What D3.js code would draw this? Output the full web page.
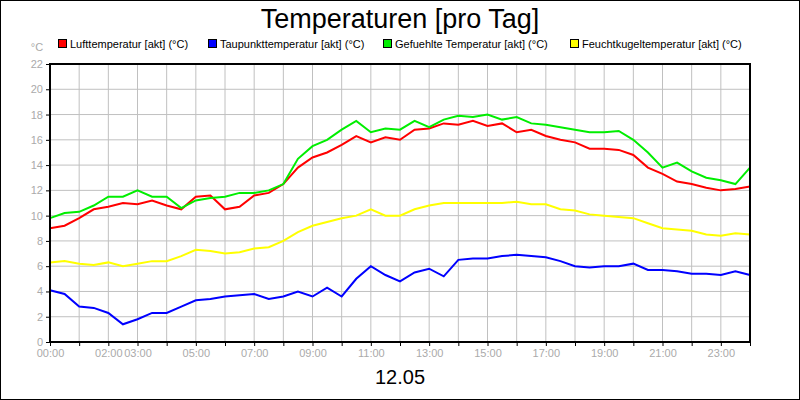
<!DOCTYPE html><html><head><meta charset="utf-8"><script src="https://cdn.jsdelivr.net/npm/d3@7"></script>
<style>body{margin:0}svg{display:block;font-family:"Liberation Sans",Arial,sans-serif}</style></head><body><svg id="c" width="800" height="400"></svg><script>
const hours=d3.range(49).map(i=>i/2);
const luft=[9.0,9.2,9.8,10.5,10.7,11.0,10.9,11.2,10.8,10.5,11.5,11.6,10.5,10.7,11.6,11.8,12.5,13.8,14.6,15.0,15.6,16.3,15.8,16.2,16.0,16.8,16.9,17.3,17.2,17.5,17.1,17.3,16.6,16.8,16.3,16.0,15.8,15.3,15.3,15.2,14.8,13.8,13.3,12.7,12.5,12.2,12.0,12.1,12.3];
const gef=[9.8,10.2,10.3,10.8,11.5,11.5,12.0,11.5,11.5,10.6,11.2,11.4,11.5,11.8,11.8,12.0,12.5,14.5,15.5,16.0,16.8,17.5,16.6,16.9,16.8,17.5,17.0,17.6,17.9,17.8,18.0,17.6,17.8,17.3,17.2,17.0,16.8,16.6,16.6,16.7,16.0,15.0,13.8,14.2,13.5,13.0,12.8,12.5,13.8];
const feucht=[6.3,6.4,6.2,6.1,6.3,6.0,6.2,6.4,6.4,6.8,7.3,7.2,7.0,7.1,7.4,7.5,8.0,8.7,9.2,9.5,9.8,10.0,10.5,10.0,10.0,10.5,10.8,11.0,11.0,11.0,11.0,11.0,11.1,10.9,10.9,10.5,10.4,10.1,10.0,9.9,9.8,9.4,9.0,8.9,8.8,8.5,8.4,8.6,8.5];
const tau=[4.1,3.8,2.8,2.7,2.3,1.4,1.8,2.3,2.3,2.8,3.3,3.4,3.6,3.7,3.8,3.4,3.6,4.0,3.6,4.3,3.6,5.0,6.0,5.3,4.8,5.5,5.8,5.2,6.5,6.6,6.6,6.8,6.9,6.8,6.7,6.4,6.0,5.9,6.0,6.0,6.2,5.7,5.7,5.6,5.4,5.4,5.3,5.6,5.3];
const yTicks=d3.range(0,23,2);
const xTicks=[0,2,3,5,7,9,11,13,15,17,19,21,23];
const series=[{n:"Lufttemperatur [akt] (°C)",c:"#ff0000",d:luft},{n:"Taupunkttemperatur [akt] (°C)",c:"#0000ff",d:tau},{n:"Gefuehlte Temperatur [akt] (°C)",c:"#00ee00",d:gef},{n:"Feuchtkugeltemperatur [akt] (°C)",c:"#ffff00",d:feucht}];
const svg=d3.select("#c");
svg.append("rect").attr("x",0.5).attr("y",0.5).attr("width",799).attr("height",399).attr("fill","#fff").attr("stroke","#000");
const x=d3.scaleLinear().domain([0,24]).range([50,750]);
const y=d3.scaleLinear().domain([0,22]).range([342,64]);
const g=svg.append("g");
g.selectAll(".vg").data(d3.range(1,24)).join("line").attr("x1",d=>x(d)).attr("x2",d=>x(d)).attr("y1",64).attr("y2",342).attr("stroke","#c0c0c0");
g.selectAll(".hg").data(yTicks.slice(1)).join("line").attr("x1",50).attr("x2",750).attr("y1",d=>y(d)).attr("y2",d=>y(d)).attr("stroke","#c0c0c0");
const line=d3.line().x((d,i)=>x(hours[i])).y(d=>y(d));
series.forEach(s=>svg.append("path").attr("d",line(s.d)).attr("fill","none").attr("stroke",s.c).attr("stroke-width",2));
svg.append("rect").attr("x",50).attr("y",64).attr("width",700).attr("height",278).attr("fill","none").attr("stroke","#000").attr("stroke-width",2);
const ya=svg.append("g").attr("transform","translate(50,0)").call(d3.axisLeft(y).tickValues(yTicks).tickSize(4).tickPadding(3));
const xa=svg.append("g").attr("transform","translate(0,342)").call(d3.axisBottom(x).tickValues(d3.range(0,25)).tickSize(4).tickFormat(d=>xTicks.includes(d)?String(d).padStart(2,"0")+":00":""));
[ya,xa].forEach(a=>{a.select(".domain").remove();a.selectAll("line").attr("stroke","#000");a.selectAll("text").attr("fill","#aaa").attr("font-size",11).attr("font-family","Liberation Sans, Arial");});
svg.append("text").attr("x",37).attr("y",51).attr("text-anchor","middle").attr("fill","#aaa").attr("font-size",11).text("°C");
svg.append("text").attr("x",400).attr("y",28).attr("text-anchor","middle").attr("font-size",27).text("Temperaturen [pro Tag]");
svg.append("text").attr("x",400).attr("y",384).attr("text-anchor","middle").attr("font-size",20).text("12.05");
const lx=[58,208,383,570];
series.forEach((s,i)=>{svg.append("rect").attr("x",lx[i]+0.5).attr("y",39.5).attr("width",8).attr("height",8).attr("fill",s.c).attr("stroke","#000");
svg.append("text").attr("x",lx[i]+12).attr("y",48).attr("font-size",11).text(s.n);});
</script></body></html>
